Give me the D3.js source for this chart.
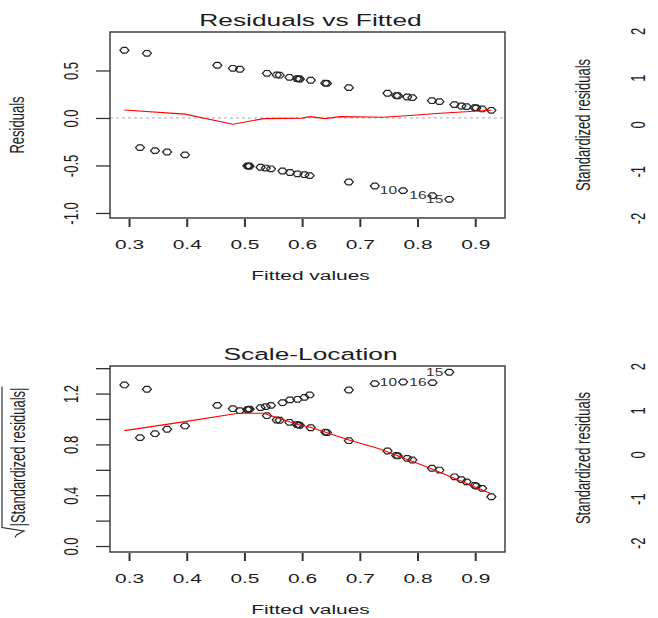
<!DOCTYPE html>
<html><head><meta charset="utf-8">
<script src="https://cdn.jsdelivr.net/npm/d3@7"></script>
<style>
body{margin:0;background:#fff}
text{font-family:"Liberation Sans",Arial,sans-serif;fill:#1c1c1c}
</style>
</head><body>
<svg id="c" width="658" height="618"></svg>
<script>
// ---------- data ----------
const fitted = [
  0.292,0.331,0.453,0.480,0.492,0.539,0.556,0.561,0.578,0.591,0.594,0.596,0.615,0.640,0.643,0.681,
  0.748,0.763,0.766,0.782,0.791,0.825,0.838,0.864,0.876,0.885,0.899,0.902,0.912,0.928,
  0.319,0.345,0.366,0.397,0.505,0.507,0.509,0.528,0.537,0.546,0.566,0.579,0.592,0.604,0.613,
  0.681,0.726,0.775,0.826,0.855
];
const residuals = [
  0.713,0.681,0.555,0.523,0.513,0.470,0.453,0.450,0.428,0.414,0.412,0.410,0.397,0.366,0.364,0.319,
  0.260,0.236,0.234,0.221,0.214,0.182,0.172,0.140,0.126,0.119,0.108,0.106,0.095,0.081,
  -0.312,-0.344,-0.358,-0.389,-0.504,-0.506,-0.507,-0.519,-0.527,-0.535,-0.558,-0.574,-0.588,-0.597,-0.607,
  -0.674,-0.716,-0.765,-0.818,-0.856
];
const sqrtStdResid = [
  1.268,1.234,1.107,1.081,1.065,1.026,0.992,0.990,0.974,0.955,0.953,0.950,0.931,0.897,0.893,0.829,
  0.748,0.713,0.709,0.690,0.677,0.612,0.598,0.545,0.522,0.505,0.477,0.472,0.454,0.388,
  0.853,0.884,0.919,0.945,1.074,1.076,1.078,1.089,1.097,1.107,1.128,1.150,1.155,1.170,1.189,
  1.228,1.278,1.291,1.286,1.368
];
const idIndex = [47,48,49];
const idText  = ["10","16","15"];

const lowessTopX = [0.292,0.397,0.480,0.533,0.600,0.614,0.640,0.666,0.741,0.793,0.839,0.928];
const lowessTopY = [0.084,0.040,-0.066,-0.007,-0.002,0.014,-0.007,0.014,0.007,0.028,0.049,0.081];
const lowessBotX = [0.292,0.397,0.489,0.533,0.596,0.614,0.681,0.735,0.822,0.929];
const lowessBotY = [0.908,0.979,1.045,1.045,0.953,0.935,0.835,0.764,0.612,0.410];

const xTicks = [0.3,0.4,0.5,0.6,0.7,0.8,0.9];
const resTicks = [-1.0,-0.5,0.0,0.5];
const slTicks = [0.0,0.2,0.4,0.6,0.8,1.0,1.2,1.4];
const slTickLabels = ["0.0","","0.4","","0.8","","1.2",""];
const stdTicks = [-2,-1,0,1,2];
const stdTickLabels = ["-2","-1","0","1","2"];

const titles = ["Residuals vs Fitted","Scale-Location"];
const xLabel = "Fitted values";
const yLabels = ["Residuals","|Standardized residuals|","Standardized residuals"];

// ---------- layout ----------
const SX = 1.55;           // horizontal stretch of the reference
const FS = 13.5, FSV = 13, FT = 17, FID = 10;
const svg = d3.select("#c");
const L = 110, R = 505;
const top1 = 32, bot1 = 218, top2 = 366, bot2 = 552;

const x = d3.scaleLinear().domain([0.267,0.9516]).range([L,R]);
const yRes = d3.scaleLinear().domain([-1.053,0.905]).range([bot1,top1]);
const ySL = d3.scaleLinear().domain([-0.047,1.417]).range([bot2,top2]);
const yStd1 = d3.scaleLinear().domain([-2,2]).range([218.5,31.5]);
const yStd2 = d3.scaleLinear().domain([-2,2]).range([543.3,366.7]);

function htext(x0,y0,str,size,anchor){
  return svg.append("text").attr("transform",`translate(${x0},${y0}) scale(${SX},1)`)
    .attr("text-anchor",anchor||"middle").style("font-size",size+"px").text(str);
}
function vtext(x0,y0,str,size){
  return svg.append("text").attr("transform",`translate(${x0},${y0}) scale(${SX},1) rotate(-90)`)
    .attr("text-anchor","middle").style("font-size",size+"px").text(str);
}
const diamond = "M-4.5,0L-2,-2.8L2,-2.8L4.5,0L2,2.8L-2,2.8Z";

function panel(top,bot,yScale,yTicks,yFmt,yVals,lx,ly,title,zeroLine){
  // lowess / reference line
  if(zeroLine){
    svg.append("line").attr("x1",L).attr("x2",R).attr("y1",yScale(0)).attr("y2",yScale(0))
      .attr("stroke","#aaa").attr("stroke-width",1).attr("stroke-dasharray","3,3");
  }
  // points
  svg.append("g").selectAll("path").data(fitted).join("path")
    .attr("d",diamond)
    .attr("transform",(d,i)=>`translate(${x(d)},${yScale(yVals[i])})`)
    .attr("fill","none").attr("stroke","#222").attr("stroke-width",1.2);
  // lowess
  const line = d3.line().x(d=>x(d[0])).y(d=>yScale(d[1]));
  svg.append("path").datum(lx.map((v,i)=>[v,ly[i]])).attr("d",line)
    .attr("fill","none").attr("stroke","#ff0000").attr("stroke-width",1.1);
  // id labels
  idIndex.forEach((idx,k)=>{
    htext(x(fitted[idx])-6, yScale(yVals[idx])+3.5, idText[k], FID, "end").style("fill","#333");
  });
  // box
  svg.append("rect").attr("x",L).attr("y",top).attr("width",R-L).attr("height",bot-top)
    .attr("fill","none").attr("stroke","#333").attr("stroke-width",1.4);
  // x axis
  const gx = svg.append("g").attr("transform",`translate(0,${bot+1})`)
    .call(d3.axisBottom(x).tickValues(xTicks).tickSize(8).tickFormat(d=>d.toFixed(1)));
  gx.select(".domain").remove();
  gx.selectAll("line").attr("stroke","#333").attr("stroke-width",2);
  gx.selectAll("text").attr("y",null).attr("dy",null)
    .attr("transform",`translate(0,29.5) scale(${SX},1)`).style("font-size",FS+"px")
    .style("font-family","'Liberation Sans',Arial,sans-serif").attr("fill","#1c1c1c");
  // y axis
  const gy = svg.append("g").attr("transform",`translate(${L},0)`)
    .call(d3.axisLeft(yScale).tickValues(yTicks).tickSize(14).tickFormat((d,i)=>yFmt(d,i)));
  gy.select(".domain").remove();
  gy.selectAll("line").attr("stroke","#333").attr("stroke-width",1.3);
  gy.selectAll("text").attr("x",null).attr("dy",null)
    .attr("text-anchor","middle")
    .attr("transform",`translate(-32,0) scale(${SX},1) rotate(-90)`).style("font-size",FSV+"px")
    .style("font-family","'Liberation Sans',Arial,sans-serif").attr("fill","#1c1c1c");
  // title + x label
  htext((L+R)/2+3, top-6, title, FT);
  htext((L+R)/2+3, bot+62, xLabel, FS);
}

panel(top1,bot1,yRes,resTicks,d=>d.toFixed(1),residuals,lowessTopX,lowessTopY,titles[0],true);
panel(top2,bot2,ySL,slTicks,(d,i)=>slTickLabels[i],sqrtStdResid,lowessBotX,lowessBotY,titles[1],false);

// left y labels
vtext(24,(top1+bot1)/2,yLabels[0],FSV);
vtext(25,457,yLabels[1],FSV);
// radical sign for sqrt(|...|)
svg.append("path").attr("d","M2,386.5V527.5L24,531L16.5,535L15,537.5")
  .attr("fill","none").attr("stroke","#222").attr("stroke-width",1.1);

// right column (partially visible neighbouring panels)
vtext(590,125,yLabels[2],FSV);
vtext(590,458,yLabels[2],FSV);
stdTicks.forEach((t,i)=>{
  vtext(645,yStd1(t),stdTickLabels[i],FSV);
  vtext(645,yStd2(t),stdTickLabels[i],FSV);
});
</script>
</body></html>
